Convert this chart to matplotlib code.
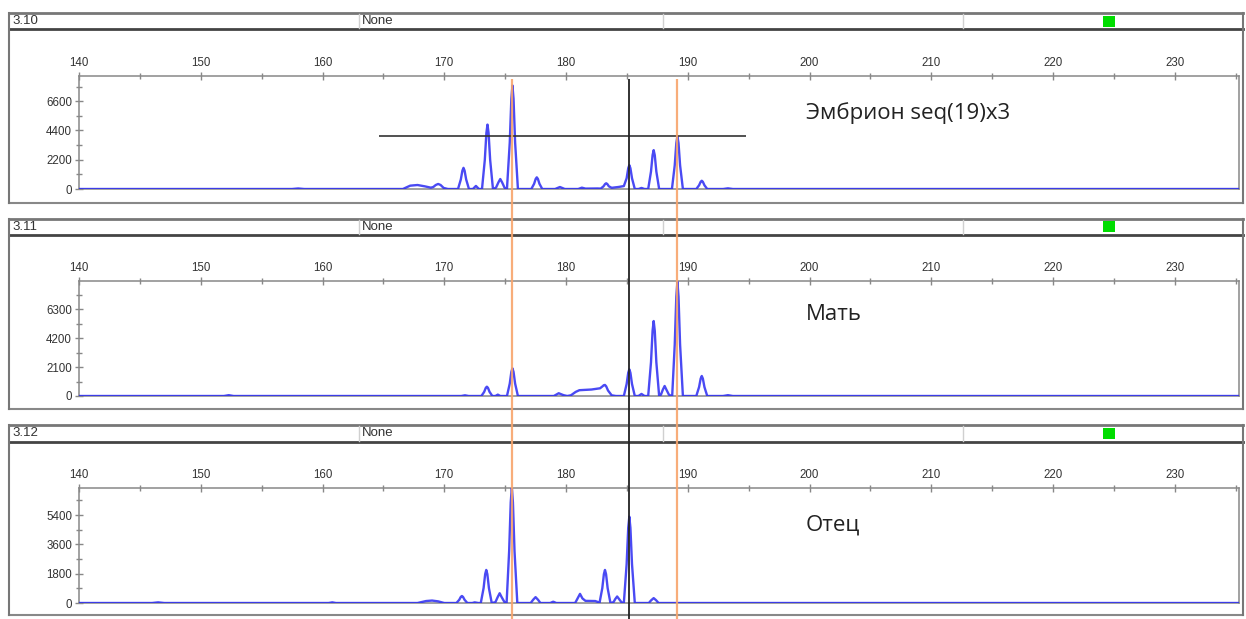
import matplotlib
matplotlib.use('Agg')
import matplotlib.pyplot as plt
from matplotlib.patches import Rectangle
from matplotlib.lines import Line2D
from matplotlib.ticker import MultipleLocator

W, H = 1246, 619

# data
sample_ids = ['3.10', '3.11', '3.12']
sample_names = ['Эмбрион seq(19)x3', 'Мать', 'Отец']
y_steps = [2200, 2100, 1800]
y_tops = [8530, 8330, 7060]
x_range = (140, 235.3)

# trace vertices (size, rfu)
embryo = [(140, 0), (157.5, 0), (158.0, 40), (158.5, 0),
          (166.6, 0), (167.2, 250), (167.8, 300), (168.4, 200), (168.9, 100),
          (169.1, 150), (169.3, 300), (169.5, 380), (169.7, 300), (169.95, 80), (170.3, 0),
          (171.13, 0), (171.36, 715), (171.49, 1380), (171.58, 1590), (171.67, 1380), (171.8, 715), (172.03, 0),
          (172.35, 0), (172.6, 230), (172.85, 0),
          (173.1, 0), (173.33, 2180), (173.46, 4210), (173.55, 4840), (173.64, 4210), (173.77, 2180), (174.0, 0),
          (174.25, 100), (174.45, 500), (174.6, 750), (174.75, 500), (174.95, 100), (175.1, 0),
          (175.15, 0), (175.38, 3500), (175.51, 6770), (175.6, 7780), (175.69, 6770), (175.82, 3500), (176.05, 0),
          (177.15, 0), (177.38, 390), (177.51, 760), (177.6, 875), (177.69, 760), (177.82, 390), (178.05, 0),
          (179.1, 0), (179.5, 150), (179.9, 0),
          (181.0, 0), (181.3, 100), (181.6, 30), (182.6, 40),
          (182.85, 30), (183.08, 200), (183.21, 375), (183.3, 430), (183.39, 375), (183.52, 200), (183.75, 90),
          (184.3, 150), (184.75, 220),
          (184.98, 810), (185.11, 1560), (185.2, 1795), (185.29, 1560), (185.42, 810), (185.65, 0),
          (185.95, 0), (186.2, 80), (186.45, 0),
          (186.75, 0), (186.98, 1310), (187.11, 2540), (187.2, 2920), (187.29, 2540), (187.42, 1310), (187.65, 0),
          (188.7, 0), (188.93, 1780), (189.06, 3450), (189.15, 3965), (189.24, 3450), (189.37, 1780), (189.6, 0),
          (190.7, 0), (190.93, 280), (191.06, 540), (191.15, 620), (191.24, 540), (191.37, 280), (191.6, 0),
          (192.9, 0), (193.3, 50), (193.7, 0),
          (235.3, 0)]

mother = [(140, 0), (151.9, 0), (152.3, 60), (152.7, 0),
          (171.4, 0), (171.7, 50), (172.0, 0),
          (173.05, 0), (173.28, 300), (173.41, 590), (173.5, 675), (173.59, 590), (173.72, 300), (173.95, 0),
          (174.2, 0), (174.4, 100), (174.6, 0),
          (175.15, 0), (175.38, 900), (175.51, 1745), (175.6, 2005), (175.69, 1745), (175.82, 900), (176.05, 0),
          (179.0, 0), (179.4, 200), (179.8, 60), (180.1, 0),
          (180.4, 50), (180.8, 300), (181.1, 420), (182.1, 470), (182.8, 560),
          (183.0, 700), (183.1, 780), (183.2, 800), (183.3, 700), (183.45, 400), (183.75, 50), (184.1, 0),
          (184.75, 0), (184.98, 870), (185.11, 1680), (185.2, 1933), (185.29, 1680), (185.42, 870), (185.65, 0),
          (185.95, 0), (186.2, 150), (186.45, 0),
          (186.75, 0), (186.98, 2440), (187.11, 4720), (187.2, 5430), (187.29, 4720), (187.42, 2440), (187.65, 0),
          (187.8, 100), (187.95, 450), (188.1, 725), (188.25, 450), (188.45, 100), (188.65, 0),
          (188.72, 0), (188.93, 3720), (189.06, 7200), (189.15, 8275), (189.24, 7200), (189.37, 3720), (189.6, 0),
          (190.7, 0), (190.93, 650), (191.06, 1260), (191.15, 1450), (191.24, 1260), (191.37, 650), (191.6, 0),
          (192.9, 0), (193.3, 60), (193.7, 0),
          (235.3, 0)]

father = [(140, 0), (146.0, 0), (146.5, 40), (147.0, 0),
          (160.5, 0), (160.8, 40), (161.1, 0),
          (167.8, 0), (168.5, 120), (169.0, 150), (169.5, 100), (170.0, 0),
          (171.0, 0), (171.23, 195), (171.36, 375), (171.45, 430), (171.54, 375), (171.67, 195), (171.9, 0),
          (172.3, 0), (172.5, 40), (172.8, 0),
          (173.0, 0), (173.23, 910), (173.36, 1770), (173.45, 2030), (173.54, 1770), (173.67, 910), (173.9, 0),
          (174.2, 50), (174.38, 350), (174.55, 600), (174.72, 350), (174.95, 50), (175.1, 0),
          (175.12, 0), (175.33, 3200), (175.46, 6180), (175.55, 7100), (175.64, 6180), (175.77, 3200), (176.0, 0),
          (177.1, 0), (177.3, 200), (177.5, 360), (177.7, 200), (177.9, 0),
          (178.7, 0), (178.95, 80), (179.2, 0),
          (180.75, 0), (180.95, 280), (181.15, 560), (181.35, 280), (181.6, 130), (182.4, 120), (182.7, 40),
          (182.75, 0), (182.98, 910), (183.11, 1770), (183.2, 2030), (183.29, 1770), (183.42, 910), (183.65, 0),
          (183.9, 50), (184.05, 250), (184.2, 400), (184.35, 250), (184.55, 50), (184.75, 0),
          (184.98, 2390), (185.11, 4610), (185.2, 5300), (185.29, 4610), (185.42, 2390), (185.65, 0),
          (186.8, 0), (187.0, 170), (187.2, 300), (187.4, 170), (187.6, 0),
          (235.3, 0)]

traces = [embryo, mother, father]

allele_marks = [175.6, 189.15]
cursor_x = 185.2
bin_x0, bin_x1, bin_y = 164.6, 194.8, 3965

# layout in pixels
box_top = [13.3, 218.5, 425.0]
head_bot = [29.3, 234.5, 441.7]
box_bot = [203.3, 408.5, 615.0]
ax_top = [75.5, 281.0, 488.0]
ax_bot = [189.0, 396.0, 603.0]
ax_left, ax_right = 79.0, 1239.3
box_left, box_right = 9.3, 1243.0
dividers = [359.0, 663.0, 963.0]
name_y = [113, 315, 525]


def fx(px):
    return px / W


def fy(py):
    return 1 - py / H


def hline(x0, x1, y, **kw):
    fig.add_artist(Line2D([fx(x0), fx(x1)], [fy(y), fy(y)], **kw))


def vline(x, y0, y1, **kw):
    fig.add_artist(Line2D([fx(x), fx(x)], [fy(y0), fy(y1)], **kw))


fig = plt.figure(figsize=(12.46, 6.19), dpi=100)
fig.patch.set_facecolor('white')

tick_font = dict(family='Liberation Sans', size=8.3, color='#333333')

for i in range(3):
    # panel frame and header strip
    hline(box_left, box_right, box_top[i], color='#777777', lw=2)
    hline(box_left, box_right, head_bot[i], color='#444444', lw=2)
    hline(box_left, box_right, box_bot[i], color='#888888', lw=1.5)
    vline(box_left, box_top[i], box_bot[i], color='#777777', lw=1.5)
    vline(box_right, box_top[i], box_bot[i], color='#777777', lw=1.5)
    for d in dividers:
        vline(d, box_top[i] + 1, head_bot[i] - 1, color='#d0d0d0', lw=1)
    fig.text(fx(12), fy((box_top[i] + head_bot[i]) / 2), sample_ids[i],
             ha='left', va='center', family='Liberation Sans', size=9.5, color='#333333')
    fig.text(fx(362), fy((box_top[i] + head_bot[i]) / 2), 'None',
             ha='left', va='center', family='Liberation Sans', size=9.5, color='#333333')
    fig.add_artist(Rectangle((fx(1103), fy(box_top[i] + 13.5)), fx(12), 11 / H,
                             color='#00dd00', lw=0))

    # trace axes
    ax = fig.add_axes([fx(ax_left), fy(ax_bot[i]), fx(ax_right - ax_left),
                       (ax_bot[i] - ax_top[i]) / H])
    xs, ys = zip(*traces[i])
    ax.plot(xs, ys, color='#2a2af2', lw=1.7, alpha=0.85, zorder=3,
            solid_joinstyle='round')
    ax.set_xlim(*x_range)
    ax.set_ylim(0, y_tops[i])
    for s in ax.spines.values():
        s.set_color('#888888')
        s.set_linewidth(1.1)
    ax.xaxis.tick_top()
    ax.xaxis.set_major_locator(MultipleLocator(10))
    ax.xaxis.set_minor_locator(MultipleLocator(5))
    ax.yaxis.set_major_locator(MultipleLocator(y_steps[i]))
    ax.yaxis.set_minor_locator(MultipleLocator(y_steps[i] / 2))
    ax.tick_params(which='both', direction='inout', color='#888888', width=1)
    ax.tick_params(which='major', length=6, pad=2)
    ax.tick_params(which='minor', length=5)
    for lab in ax.get_xticklabels() + ax.get_yticklabels():
        lab.set_fontfamily(tick_font['family'])
        lab.set_fontsize(tick_font['size'])
        lab.set_color(tick_font['color'])
    if i == 0:
        ax.hlines(bin_y, bin_x0, bin_x1, color='#333333', lw=1.2, zorder=4)
    fig.text(fx(806), fy(name_y[i]), sample_names[i], ha='left', va='center',
             family='Open Sans', size=16, color='#222222')

# allele markers and cursor drawn across all panels
over = fig.add_axes([fx(ax_left), 0, fx(ax_right - ax_left), fy(79)], zorder=10)
over.patch.set_alpha(0)
over.set_xlim(*x_range)
over.set_ylim(0, 1)
over.axis('off')
for m in allele_marks:
    over.axvline(m, color='#f8a46c', lw=1.6, alpha=0.9)
over.axvline(cursor_x, color='#222222', lw=1.3)

fig.savefig('out.png', dpi=100)
